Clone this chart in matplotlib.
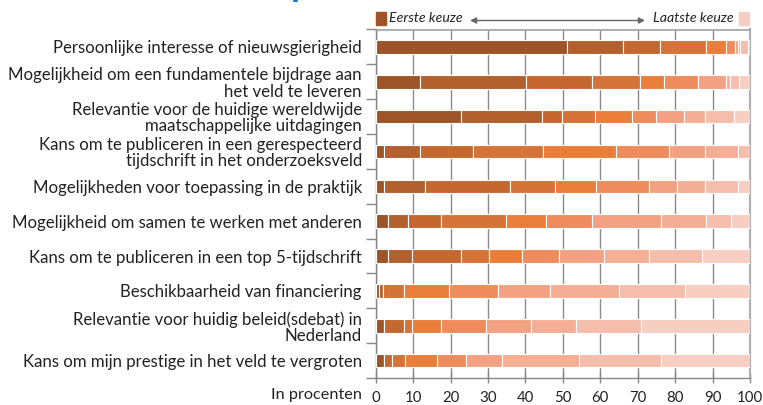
import matplotlib
matplotlib.use("Agg")
import matplotlib.pyplot as plt
import numpy as np

plt.rcParams['font.family'] = ['Lato', 'DejaVu Sans']

categories = [
    "Persoonlijke interesse of nieuwsgierigheid",
    "Mogelijkheid om een fundamentele bijdrage aan\nhet veld te leveren",
    "Relevantie voor de huidige wereldwijde\nmaatschappelijke uitdagingen",
    "Kans om te publiceren in een gerespecteerd\ntijdschrift in het onderzoeksveld",
    "Mogelijkheden voor toepassing in de praktijk",
    "Mogelijkheid om samen te werken met anderen",
    "Kans om te publiceren in een top 5-tijdschrift",
    "Beschikbaarheid van financiering",
    "Relevantie voor huidig beleid(sdebat) in\nNederland",
    "Kans om mijn prestige in het veld te vergroten",
]

# shares (%) per rank 1 (eerste keuze) .. 10 (laatste keuze), one list per category
interesse     = [51.0, 15.2, 9.8, 12.3, 5.4, 2.3, 0.7, 0.7, 2.1, 0.5]
bijdrage      = [11.9, 28.3, 17.5, 12.9, 6.5, 8.9, 7.5, 1.1, 2.5, 2.9]
wereldwijd    = [22.8, 21.6, 5.5, 8.7, 9.8, 6.5, 7.6, 5.4, 7.8, 4.3]
gerespecteerd = [2.1, 9.7, 14.3, 18.5, 19.5, 14.2, 9.8, 8.7, 3.2, 0.0]
toepassing    = [2.1, 11.0, 22.8, 11.9, 11.0, 14.1, 7.6, 7.6, 8.7, 3.2]
samenwerken   = [3.2, 5.4, 8.8, 17.4, 10.8, 12.1, 18.5, 12.1, 6.5, 5.2]
top5          = [3.2, 6.5, 13.0, 7.6, 8.8, 9.8, 12.0, 12.0, 14.2, 12.9]
financiering  = [0.9, 1.1, 0.0, 5.5, 12.1, 13.0, 14.1, 18.3, 17.6, 17.4]
beleid        = [2.1, 0.0, 5.4, 2.2, 7.7, 12.1, 12.0, 12.0, 17.4, 29.1]
prestige      = [2.1, 0.0, 2.2, 3.4, 8.6, 7.8, 9.7, 20.6, 21.8, 23.8]

xticks = [0, 10, 20, 30, 40, 50, 60, 70, 80, 90, 100]

colors = ["#9C5428", "#B2602E", "#C46830", "#D57338", "#E97E3B",
          "#EF8C5E", "#F2A282", "#F4AE95", "#F4BDAC", "#F7CEC2"]

data = np.array([interesse, bijdrage, wereldwijd, gerespecteerd, toepassing,
                 samenwerken, top5, financiering, beleid, prestige])

W, H = 763, 405
fig = plt.figure(figsize=(W / 100, H / 100), dpi=100)
ax = fig.add_axes([375.7 / W, 1 - 378 / H, (750 - 375.7) / W, (378 - 29.5) / H])

y = np.arange(len(categories))
left = np.zeros(len(categories))
for k in range(data.shape[1]):
    ax.barh(y, data[:, k], left=left, height=0.39, color=colors[k],
            edgecolor="white", linewidth=0.8, zorder=3)
    left += data[:, k]

ax.set_xlim(0, 100)
ax.set_ylim(len(categories) - 0.5, -0.5)

ax.set_xticks(xticks)
ax.set_xticklabels([str(t) for t in xticks], fontsize=10.8, color="#222222")
ax.set_yticks(y)
ax.set_yticklabels(categories, fontsize=12.1, color="#222222")
for t in ax.get_yticklabels():
    t.set_linespacing(1.02)
ax.set_yticks(np.arange(-0.5, len(categories), 1.0), minor=True)

ax.tick_params(axis="y", which="major", length=0, pad=10)
ax.tick_params(axis="y", which="minor", length=7, width=1.0, color="#888888", direction="out")
ax.tick_params(axis="x", which="major", length=7, width=1.0, color="#888888",
               direction="inout", pad=6)

ax.grid(axis="x", color="#8a8a8a", linewidth=1.0, zorder=0)
ax.set_axisbelow(True)

for side in ["left", "bottom"]:
    ax.spines[side].set_color("#888888")
    ax.spines[side].set_linewidth(1.0)
ax.spines["top"].set_color("#a0a0a0")
ax.spines["top"].set_linewidth(1.2)
ax.spines["right"].set_color("#b0b0b0")
ax.spines["right"].set_linewidth(1.6)

# axis title
fig.text(362 / W, 1 - 395 / H, "In procenten", ha="right", va="center",
         fontsize=11.7, color="#222222")

# legend
fig.patches.append(plt.Rectangle((376 / W, 1 - 25 / H), 10 / W, 12.5 / H,
                                 transform=fig.transFigure, color=colors[0]))
fig.patches.append(plt.Rectangle((739 / W, 1 - 25 / H), 10 / W, 12.5 / H,
                                 transform=fig.transFigure, color=colors[-1]))
fig.text(389 / W, 1 - 18.5 / H, "Eerste keuze", ha="left", va="center",
         fontsize=10.2, style="italic", color="#222222")
fig.text(734 / W, 1 - 18.5 / H, "Laatste keuze", ha="right", va="center",
         fontsize=10.2, style="italic", color="#222222")
ax.annotate("", xy=(645 / W, 1 - 20.5 / H), xytext=(470 / W, 1 - 20.5 / H),
            xycoords="figure fraction", textcoords="figure fraction",
            arrowprops=dict(arrowstyle="<|-|>", color="#666666", lw=1.0,
                            mutation_scale=9, shrinkA=0, shrinkB=0))

# title, mostly cut off at the top edge (as in the reference)
fig.text(291 / W, 1 + 4 / H, "p", ha="left", va="baseline", fontsize=26,
         fontweight="bold", color="#1a75bb")

fig.savefig("out.png", dpi=100)
